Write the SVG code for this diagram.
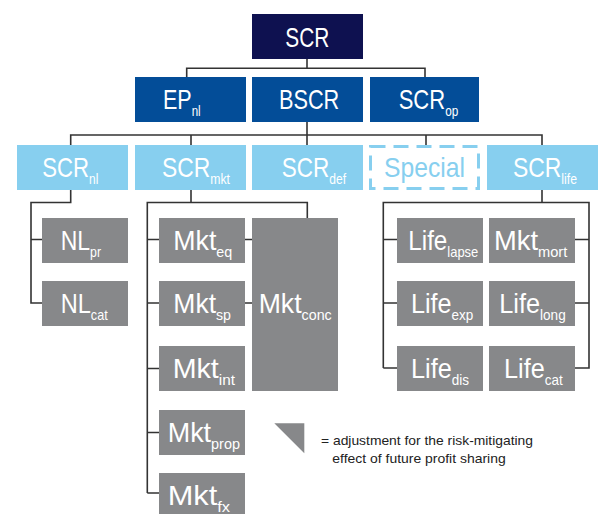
<svg xmlns="http://www.w3.org/2000/svg" width="603" height="514" viewBox="0 0 603 514">
<style>
.navy{fill:#0e1150}
.blue{fill:#034d98}
.lb{fill:#87cfef}
.grey{fill:#87888a}
.t{font-family:"Liberation Sans",Arial,sans-serif;font-size:28px;fill:#ffffff}
.s{font-size:15px}
.sp{fill:#87cfef}
.leg{font-family:"Liberation Sans",Arial,sans-serif;font-size:13px;fill:#222222}
.ln{fill:none;stroke:#333333;stroke-width:1.6}
</style>
<rect width="603" height="514" fill="#ffffff"/>
<g id="connectors" class="ln">
<path d="M307 59V68.3M186.7 77V68.3H425V77"/>
<path d="M307 122V145M70.7 145V135H542V145M191 135V145M426 135V145"/>
<path d="M70.7 190V202.5H31V303H42M31 239.5H42"/>
<path d="M191 190V202.5M147.3 493V202.5H307.3V218M147.3 239.5H159M147.3 303H159M147.3 368.5H159M147.3 432.5H159M147.3 493H159"/>
<path d="M245 239.5H252M245 303H252"/>
<path d="M542 190V202.5M383.3 368H397M383.3 368V202.5H589V368H575M383.3 239.5H397M383.3 303H397M575 239.5H589M575 303H589"/>
</g>
<g id="n-scr"><rect class="navy" x="252" y="14" width="111" height="45"/><text class="t" x="285.3" y="47" textLength="44" lengthAdjust="spacingAndGlyphs">SCR</text></g>
<g id="n-epnl"><rect class="blue" x="135" y="77" width="111" height="45"/><text class="t" x="163" y="108.5" textLength="37.7" lengthAdjust="spacingAndGlyphs">EP<tspan class="s" dy="7">nl</tspan></text></g>
<g id="n-bscr"><rect class="blue" x="252" y="77" width="111" height="45"/><text class="t" x="279" y="108.5" textLength="60.3" lengthAdjust="spacingAndGlyphs">BSCR</text></g>
<g id="n-scrop"><rect class="blue" x="370" y="77" width="109" height="45"/><text class="t" x="398.7" y="108.5" textLength="59.6" lengthAdjust="spacingAndGlyphs">SCR<tspan class="s" dy="7">op</tspan></text></g>
<g id="n-scrnl"><rect class="lb" x="17" y="145" width="111" height="45"/><text class="t" x="42.3" y="177" textLength="56" lengthAdjust="spacingAndGlyphs">SCR<tspan class="s" dy="7">nl</tspan></text></g>
<g id="n-scrmkt"><rect class="lb" x="135" y="145" width="111" height="45"/><text class="t" x="162" y="177" textLength="68" lengthAdjust="spacingAndGlyphs">SCR<tspan class="s" dy="7">mkt</tspan></text></g>
<g id="n-scrdef"><rect class="lb" x="252" y="145" width="111" height="45"/><text class="t" x="281.7" y="177" textLength="64.3" lengthAdjust="spacingAndGlyphs">SCR<tspan class="s" dy="7">def</tspan></text></g>
<g id="n-special"><rect x="370.5" y="146.5" width="108" height="42" fill="none" stroke="#87cfef" stroke-width="3" stroke-dasharray="15 8"/><text class="t sp" x="384" y="177" textLength="81" lengthAdjust="spacingAndGlyphs">Special</text></g>
<g id="n-scrlife"><rect class="lb" x="487" y="145" width="111" height="45"/><text class="t" x="513" y="177" textLength="64" lengthAdjust="spacingAndGlyphs">SCR<tspan class="s" dy="7">life</tspan></text></g>
<g id="n-nlpr"><rect class="grey" x="42" y="218" width="86" height="45"/><text class="t" x="60.7" y="249.5" textLength="40.3" lengthAdjust="spacingAndGlyphs">NL<tspan class="s" dy="7">pr</tspan></text></g>
<g id="n-nlcat"><rect class="grey" x="42" y="281" width="86" height="45"/><text class="t" x="60.7" y="312.5" textLength="47" lengthAdjust="spacingAndGlyphs">NL<tspan class="s" dy="7">cat</tspan></text></g>
<g id="n-mkteq"><rect class="grey" x="159" y="218" width="86" height="45"/><text class="t" x="173.3" y="249.5" textLength="59" lengthAdjust="spacingAndGlyphs">Mkt<tspan class="s" dy="7">eq</tspan></text></g>
<g id="n-mktsp"><rect class="grey" x="159" y="281" width="86" height="45"/><text class="t" x="173.3" y="312.5" textLength="57.7" lengthAdjust="spacingAndGlyphs">Mkt<tspan class="s" dy="7">sp</tspan></text></g>
<g id="n-mktint"><rect class="grey" x="159" y="346" width="86" height="45"/><text class="t" x="172.7" y="377.5" textLength="62.3" lengthAdjust="spacingAndGlyphs">Mkt<tspan class="s" dy="7">int</tspan></text></g>
<g id="n-mktprop"><rect class="grey" x="159" y="410" width="86" height="45"/><text class="t" x="167.7" y="441.5" textLength="72.3" lengthAdjust="spacingAndGlyphs">Mkt<tspan class="s" dy="7">prop</tspan></text></g>
<g id="n-mktfx"><rect class="grey" x="159" y="473" width="86" height="45"/><text class="t" x="167.7" y="504.5" textLength="62.3" lengthAdjust="spacingAndGlyphs">Mkt<tspan class="s" dy="7">fx</tspan></text></g>
<g id="n-mktconc"><rect class="grey" x="252" y="218" width="86" height="173"/><text class="t" x="258.7" y="312.5" textLength="73" lengthAdjust="spacingAndGlyphs">Mkt<tspan class="s" dy="7">conc</tspan></text></g>
<g id="n-lifelapse"><rect class="grey" x="397" y="218" width="86" height="45"/><text class="t" x="408.3" y="249.5" textLength="70" lengthAdjust="spacingAndGlyphs">Life<tspan class="s" dy="7">lapse</tspan></text></g>
<g id="n-mktmort"><rect class="grey" x="489" y="218" width="86" height="45"/><text class="t" x="494" y="249.5" textLength="73.3" lengthAdjust="spacingAndGlyphs">Mkt<tspan class="s" dy="7">mort</tspan></text></g>
<g id="n-lifeexp"><rect class="grey" x="397" y="281" width="86" height="45"/><text class="t" x="411" y="312.5" textLength="62.3" lengthAdjust="spacingAndGlyphs">Life<tspan class="s" dy="7">exp</tspan></text></g>
<g id="n-lifelong"><rect class="grey" x="489" y="281" width="86" height="45"/><text class="t" x="499.3" y="312.5" textLength="66.4" lengthAdjust="spacingAndGlyphs">Life<tspan class="s" dy="7">long</tspan></text></g>
<g id="n-lifedis"><rect class="grey" x="397" y="346" width="86" height="45"/><text class="t" x="411" y="377.5" textLength="58" lengthAdjust="spacingAndGlyphs">Life<tspan class="s" dy="7">dis</tspan></text></g>
<g id="n-lifecat"><rect class="grey" x="489" y="346" width="86" height="45"/><text class="t" x="504" y="377.5" textLength="58.7" lengthAdjust="spacingAndGlyphs">Life<tspan class="s" dy="7">cat</tspan></text></g>
<g id="legend">
<polygon class="grey" points="274.3,423.3 304.3,423.3 304.3,453.3"/>
<text class="leg" x="321" y="445" textLength="212" lengthAdjust="spacingAndGlyphs">= adjustment for the risk-mitigating</text>
<text class="leg" x="332.3" y="463.3" textLength="173.4" lengthAdjust="spacingAndGlyphs">effect of future profit sharing</text>
</g>
</svg>
